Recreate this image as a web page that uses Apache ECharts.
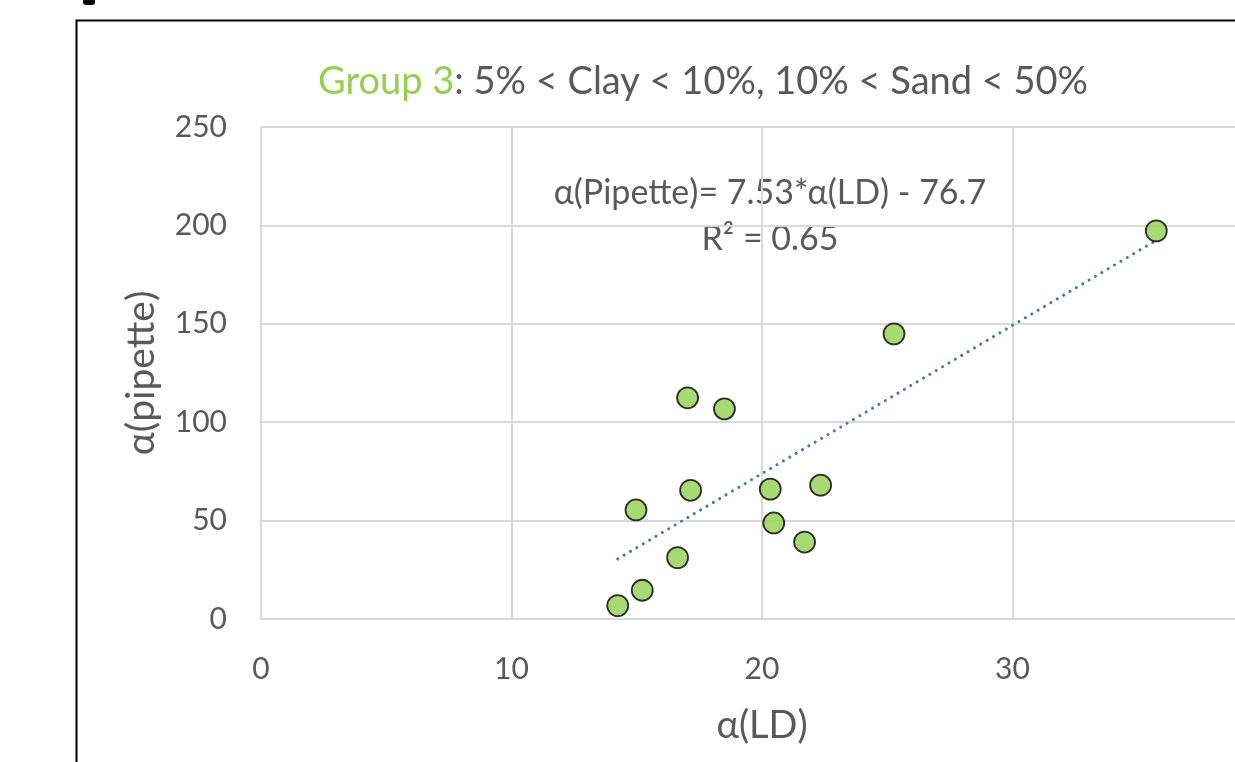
<!DOCTYPE html>
<html>
<head>
<meta charset="utf-8">
<script src="https://cdn.jsdelivr.net/npm/echarts@6/dist/echarts.min.js"></script>
<style>
  html, body { margin: 0; padding: 0; background: #ffffff; overflow: hidden; width: 1235px; height: 762px; }
  /* canvas runs past the right edge so the plot continues beyond the view */
  #chart { width: 1290px; height: 762px; }
</style>
</head>
<body>
<div id="chart"></div>
<script>
// α(LD) vs α(pipette) measurements, Group 3 soils
const ldValues      = [14.24, 15.22, 14.97, 16.63, 17.03, 17.15, 18.5, 20.33, 20.47, 21.7, 22.34, 25.27, 35.74];
const pipetteValues = [6.8,   14.6,  55.4,  31.2,  112.4, 65.4,  106.8, 66.0, 48.8,  39.1, 68.0,  144.9, 197.2];

// Linear fit shown in the annotation
const fitSlope = 7.53;
const fitIntercept = -76.7;
const fitR2 = 0.65;

const xTicks = [0, 10, 20, 30, 40];
const yTicks = [0, 50, 100, 150, 200, 250];

const FONT = 'Lato';
const TEXT_GREY = '#595959';
const GRID_GREY = '#D9D9D9';

const points = ldValues.map((x, i) => [x, pipetteValues[i]]);
const xMinData = Math.min(...ldValues);
const xMaxData = Math.max(...ldValues);
const trendPoints = [xMinData, xMaxData].map(x => [x, fitSlope * x + fitIntercept]);

const chart = echarts.init(document.getElementById('chart'), null, { renderer: 'canvas' });

chart.setOption({
  backgroundColor: '#ffffff',
  animation: false,
  textStyle: { fontFamily: FONT },
  grid: {
    left: 261,
    top: 127,
    right: 27,
    bottom: 143,
    containLabel: false
  },
  xAxis: {
    type: 'value',
    min: xTicks[0],
    max: xTicks[xTicks.length - 1],
    interval: 10,
    name: 'α(LD)',
    nameLocation: 'middle',
    nameGap: 88,
    nameTextStyle: { fontFamily: FONT, fontSize: 38, color: TEXT_GREY },
    axisLine: { show: true, lineStyle: { color: GRID_GREY, width: 2 } },
    axisTick: { show: false },
    axisLabel: { fontFamily: FONT, fontSize: 30, color: TEXT_GREY, margin: 35 },
    splitLine: { show: true, lineStyle: { color: GRID_GREY, width: 2 } }
  },
  yAxis: {
    type: 'value',
    min: yTicks[0],
    max: yTicks[yTicks.length - 1],
    interval: 50,
    name: 'α(pipette)',
    nameLocation: 'middle',
    nameGap: 100,
    nameTextStyle: { fontFamily: FONT, fontSize: 39, color: TEXT_GREY },
    axisLine: { show: false },
    axisTick: { show: false },
    axisLabel: { fontFamily: FONT, fontSize: 30, color: TEXT_GREY, margin: 34 },
    splitLine: { show: true, lineStyle: { color: GRID_GREY, width: 2 } }
  },
  series: [
    {
      name: 'Trend',
      type: 'line',
      data: trendPoints,
      showSymbol: false,
      symbol: 'none',
      silent: true,
      z: 3,
      lineStyle: { color: '#4472C4', width: 3, type: [0.1, 7.3], cap: 'round' }
    },
    {
      name: 'Samples',
      type: 'scatter',
      data: points,
      symbol: 'circle',
      symbolSize: 21,
      z: 4,
      itemStyle: { color: '#92D050', borderColor: '#000000', borderWidth: 1.8 }
    }
  ],
  graphic: [
    {
      type: 'rect',
      shape: { x: 76.5, y: 20.5, width: 1400, height: 1000 },
      style: { fill: 'none', stroke: '#000000', lineWidth: 2 },
      silent: true
    },
    {
      type: 'rect',
      shape: { x: 83, y: -6, width: 12, height: 11, r: 3 },
      style: { fill: '#000000' },
      silent: true
    },
    {
      type: 'text',
      style: {
        x: 703, y: 82,
        text: '{g|Group 3}{d|: 5% < Clay < 10%, 10% < Sand < 50%}',
        align: 'center',
        verticalAlign: 'middle',
        rich: {
          g: { fontFamily: FONT, fontSize: 38, fill: '#92D050' },
          d: { fontFamily: FONT, fontSize: 38, fill: TEXT_GREY }
        }
      },
      silent: true
    },
    {
      type: 'text',
      style: {
        x: 770, y: 193,
        text: 'α(Pipette)= ' + fitSlope + '*α(LD) - ' + Math.abs(fitIntercept),
        align: 'center',
        verticalAlign: 'middle',
        font: '34px ' + FONT,
        fill: TEXT_GREY
      },
      silent: true
    },
    {
      type: 'text',
      style: {
        x: 770, y: 239,
        text: 'R² = ' + fitR2,
        align: 'center',
        verticalAlign: 'middle',
        font: '34px ' + FONT,
        fill: TEXT_GREY
      },
      silent: true
    }
  ]
});
</script>
</body>
</html>
